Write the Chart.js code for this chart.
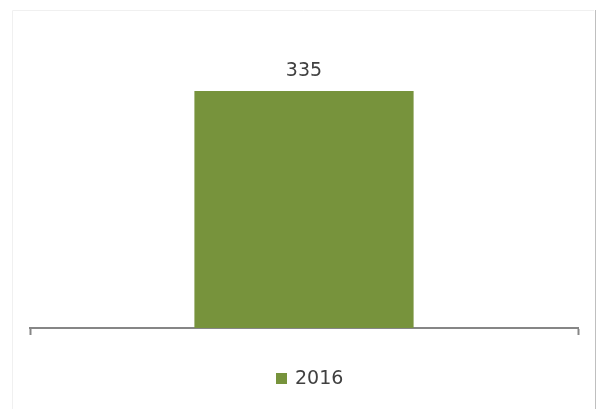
<!DOCTYPE html>
<html>
<head>
<meta charset="utf-8">
<script src="https://cdn.jsdelivr.net/npm/chart.js@4"></script>
<style>
  html, body { margin: 0; padding: 0; background: #fff; }
  #wrap { width: 597px; height: 409px; position: relative; }
</style>
</head>
<body>
<div id="wrap"><canvas id="chart"></canvas></div>
<script>
const categories = ["2016"]
const seriesName = "2016"
const values = [335]
const barColor = "#77933C"
const textColor = "#404040"

// frame + value label + legend, drawn by hand
const extras = {
	id: "extras",
	beforeDraw(chart) {
		const ctx = chart.ctx
		ctx.save()
		ctx.strokeStyle = "#f0f0f0"
		ctx.lineWidth = 1
		ctx.beginPath()
		ctx.moveTo(12.5, 409)
		ctx.lineTo(12.5, 10.5)
		ctx.lineTo(594, 10.5)
		ctx.stroke()
		ctx.strokeStyle = "#bfbfbf"
		ctx.beginPath()
		ctx.moveTo(595.5, 10)
		ctx.lineTo(595.5, 409)
		ctx.stroke()
		ctx.restore()
	},
	afterDatasetsDraw(chart) {
		const ctx = chart.ctx
		ctx.save()
		ctx.fillStyle = textColor
		ctx.font = "19px 'DejaVu Sans', sans-serif"
		ctx.textAlign = "center"
		ctx.textBaseline = "alphabetic"
		chart.getDatasetMeta(0).data.forEach((bar, i) => {
			ctx.fillText(values[i], bar.x, bar.y - 15)
		})
		// legend
		const lx = 276
		ctx.fillStyle = barColor
		ctx.fillRect(lx, 373, 11, 11)
		ctx.fillStyle = textColor
		ctx.textAlign = "left"
		ctx.fillText(seriesName, lx + 19, 384)
		ctx.restore()
	}
}

new Chart(document.getElementById("chart"), {
	type: "bar",
	data: {
		labels: categories,
		datasets: [{
			label: seriesName,
			data: values,
			backgroundColor: barColor,
			borderWidth: 0,
			barPercentage: 0.4,
			categoryPercentage: 1,
		}]
	},
	options: {
		responsive: true,
		maintainAspectRatio: false,
		animation: false,
		layout: {
			padding: { top: 45, left: 30, right: 19, bottom: 74 }
		},
		plugins: {
			legend: { display: false },
			tooltip: { enabled: false }
		},
		scales: {
			x: {
				grid: {
					offset: true,
					drawOnChartArea: false,
					drawTicks: true,
					tickLength: 7,
					tickWidth: 2,
					tickColor: "#868686",
				},
				border: { color: "#868686", width: 2 },
				ticks: { display: false }
			},
			y: {
				display: false,
				min: 0,
				max: 400
			}
		}
	},
	plugins: [extras]
});
</script>
</body>
</html>
